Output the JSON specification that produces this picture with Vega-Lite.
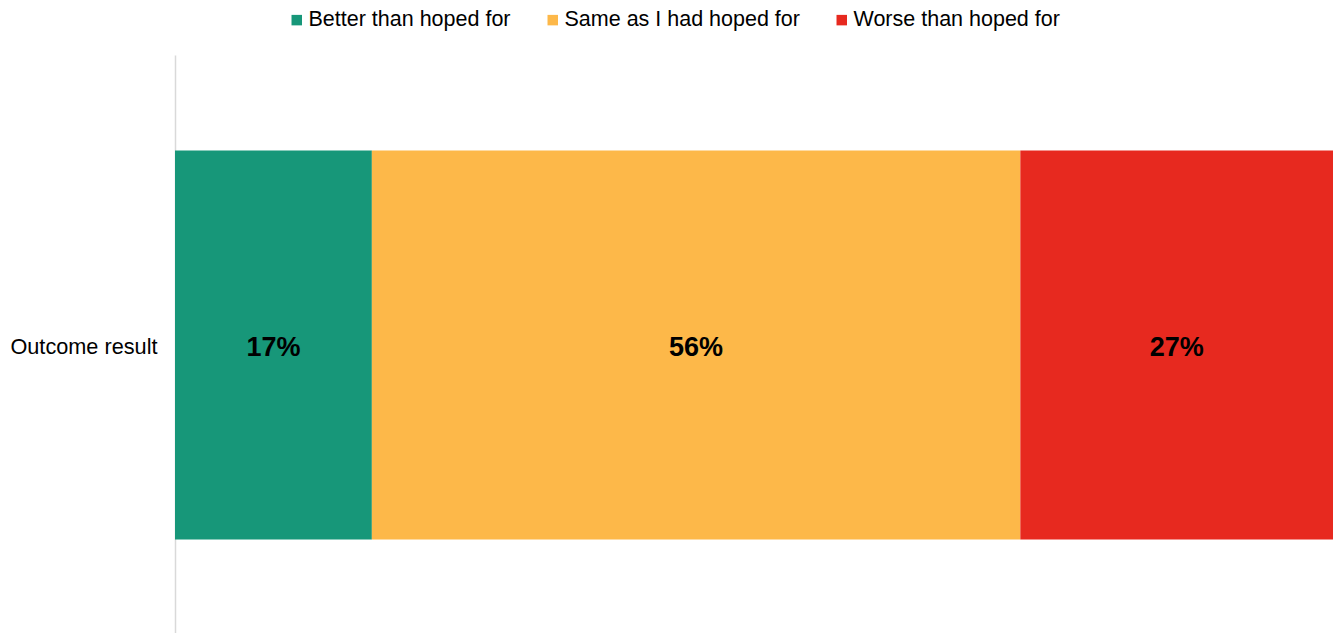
{
  "$schema": "https://vega.github.io/schema/vega-lite/v6.json",
  "width": 1158,
  "height": 580,
  "autosize": {"type": "none"},
  "padding": {"left": 175, "top": 55, "right": 0, "bottom": 0},
  "background": "white",
  "config": {"view": {"stroke": null}, "font": "Liberation Sans"},
  "data": {"values": [
    {"category": "Outcome result", "response": "Better than hoped for", "order": 1, "value": 0.17},
    {"category": "Outcome result", "response": "Same as I had hoped for", "order": 2, "value": 0.56},
    {"category": "Outcome result", "response": "Worse than hoped for", "order": 3, "value": 0.27}
  ]},
  "encoding": {
    "y": {"field": "category", "type": "nominal", "title": null,
      "scale": {"paddingInner": 0.3293, "paddingOuter": 0.1647},
      "axis": {"ticks": false, "domainColor": "#D9D9D9", "domainWidth": 1.5, "labelFontSize": 21.7, "labelColor": "#000000", "labelPadding": 18, "labelFont": "Liberation Sans", "labelLimit": 300, "labelOffset": 2}},
    "x": {"field": "value", "type": "quantitative", "stack": "normalize", "axis": null, "scale": {"domain": [0, 1]}},
    "order": {"field": "order", "type": "quantitative"}
  },
  "layer": [
    {
      "mark": {"type": "bar"},
      "encoding": {
        "color": {"field": "response", "type": "nominal",
          "scale": {"domain": ["Better than hoped for", "Same as I had hoped for", "Worse than hoped for"], "range": ["#179779", "#FDB849", "#E7291F"]},
          "legend": {"title": null, "orient": "none", "legendX": 111, "legendY": -46, "direction": "horizontal", "symbolType": "square", "symbolSize": 110, "symbolStrokeWidth": 0, "labelFontSize": 21.5, "labelColor": "#000000", "labelFont": "Liberation Sans", "columnPadding": 31, "labelOffset": 1, "labelLimit": 400}
        }
      }
    },
    {
      "mark": {"type": "text", "fontSize": 27, "fontWeight": "bold", "color": "#000000", "font": "Liberation Sans", "dy": 3},
      "encoding": {
        "x": {"field": "value", "type": "quantitative", "stack": "normalize", "bandPosition": 0.5},
        "text": {"field": "value", "type": "quantitative", "format": ".0%"}
      }
    }
  ]
}
